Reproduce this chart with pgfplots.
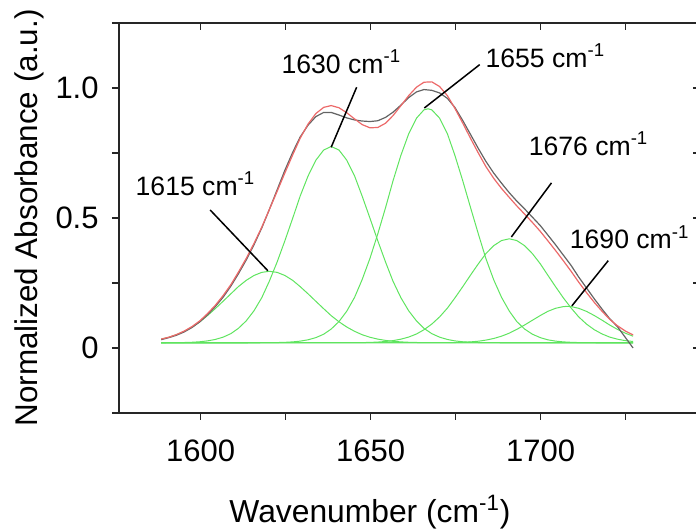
\documentclass[border=0pt]{standalone}
\usepackage{fontspec}
\setmainfont{Liberation Sans}
\usepackage{pgfplots}
\pgfplotsset{compat=1.18}
\definecolor{fitgreen}{RGB}{95,228,95}
\definecolor{fitred}{RGB}{236,105,105}
\definecolor{expgray}{RGB}{100,100,100}
\begin{document}
\begin{tikzpicture}
\useasboundingbox (-59.5pt,-58pt) rectangle (288.5pt,206.5pt);
\pgfplotsset{frame/.style={scale only axis, width=290.7pt, height=195pt,
  xmin=1576, xmax=1747, ymin=-0.25, ymax=1.25, at={(0pt,0pt)}, anchor=south west,
  axis line style={line width=0.9pt, black!85},
  major tick length=3.5pt, minor tick length=3.5pt,
  every tick/.style={line width=0.8pt, black!85},
  xtick={1600,1650,1700}, minor xtick={1625,1675,1725},
  ytick={0,0.5,1}, minor ytick={-0.25,0.25,0.75,1.25}}}
\begin{axis}[frame, xtick pos=bottom, ytick pos=left, tick align=outside,
  xticklabels={1600,1650,1700}, yticklabels={0,0.5,1.0},
  ticklabel style={font=\fontsize{15.5}{18}\selectfont},
  xticklabel style={anchor=base, yshift=-21pt},
  yticklabel style={anchor=east, inner sep=0pt, xshift=-6.5pt},
  xlabel={Wavenumber (cm\textsuperscript{-1})},
  xlabel style={at={(axis description cs:0.4317,0)}, anchor=base, yshift=-55pt, font=\fontsize{15.9}{19}\selectfont},
  ylabel={Normalized Absorbance (a.u.)},
  ylabel style={at={(axis description cs:-0.1534,0.5)}, anchor=center, font=\fontsize{15.7}{19}\selectfont}]
% baseline
\addplot[fitgreen, line width=0.6pt] coordinates {(1588.4,0.02) (1727.2,0.02)};
% component 1615
\addplot[fitgreen, line width=0.5pt] table {
1588.4 0.0342
1590.7 0.0413
1592.9 0.0512
1595.2 0.0641
1597.5 0.0806
1599.8 0.1008
1602.0 0.1245
1604.3 0.1511
1606.6 0.1796
1608.9 0.2084
1611.1 0.2359
1613.4 0.2600
1615.7 0.2789
1618.0 0.2909
1620.2 0.2950
1622.5 0.2909
1624.8 0.2789
1627.1 0.2600
1629.3 0.2359
1631.6 0.2084
1633.9 0.1796
1636.2 0.1511
1638.4 0.1245
1640.7 0.1008
1643.0 0.0806
1645.3 0.0641
1647.5 0.0512
1649.8 0.0413
1652.1 0.0342
1654.4 0.0292
1656.6 0.0257
1658.9 0.0235
1661.2 0.0220
1663.5 0.0212
1665.7 0.0206
1668.0 0.0203
1672.6 0.0200
1727.2 0.0200
};
% component 1630
\addplot[fitgreen, line width=0.5pt] table {
1588.4 0.0200
1590.7 0.0203
1592.9 0.0205
1595.2 0.0211
1597.5 0.0221
1599.8 0.0240
1602.0 0.0273
1604.3 0.0328
1606.6 0.0416
1608.9 0.0552
1611.1 0.0754
1613.4 0.1041
1615.7 0.1431
1618.0 0.1937
1620.2 0.2565
1622.5 0.3304
1624.8 0.4129
1627.1 0.4997
1629.3 0.5848
1631.6 0.6613
1633.9 0.7222
1636.2 0.7614
1638.4 0.7750
1640.7 0.7614
1643.0 0.7222
1645.3 0.6613
1647.5 0.5848
1649.8 0.4997
1652.1 0.4129
1654.4 0.3304
1656.6 0.2565
1658.9 0.1937
1661.2 0.1431
1663.5 0.1041
1665.7 0.0754
1668.0 0.0552
1670.3 0.0416
1672.6 0.0328
1674.8 0.0273
1677.1 0.0240
1679.4 0.0221
1681.7 0.0211
1683.9 0.0205
1686.2 0.0203
1690.8 0.0200
1727.2 0.0200
};
% component 1655
\addplot[fitgreen, line width=0.5pt] table {
1588.4 0.0200
1615.7 0.0201
1618.0 0.0202
1620.2 0.0204
1622.5 0.0209
1624.8 0.0218
1627.1 0.0235
1629.3 0.0264
1631.6 0.0315
1633.9 0.0399
1636.2 0.0530
1638.4 0.0728
1640.7 0.1017
1643.0 0.1418
1645.3 0.1951
1647.5 0.2626
1649.8 0.3444
1652.1 0.4382
1654.4 0.5399
1656.6 0.6433
1658.9 0.7406
1661.2 0.8235
1663.5 0.8840
1665.7 0.9160
1666.9 0.9200
1668.0 0.9160
1670.3 0.8840
1672.6 0.8235
1674.8 0.7406
1677.1 0.6433
1679.4 0.5399
1681.7 0.4382
1683.9 0.3444
1686.2 0.2626
1688.5 0.1951
1690.8 0.1418
1693.0 0.1017
1695.3 0.0728
1697.6 0.0530
1699.9 0.0399
1702.1 0.0315
1704.4 0.0264
1706.7 0.0235
1709.0 0.0218
1711.2 0.0209
1713.5 0.0204
1715.8 0.0202
1718.1 0.0201
1727.2 0.0200
};
% component 1676
\addplot[fitgreen, line width=0.5pt] table {
1588.4 0.0200
1645.3 0.0204
1647.5 0.0208
1649.8 0.0215
1652.1 0.0228
1654.4 0.0250
1656.6 0.0284
1658.9 0.0339
1661.2 0.0420
1663.5 0.0539
1665.7 0.0702
1668.0 0.0920
1670.3 0.1197
1672.6 0.1535
1674.8 0.1926
1677.1 0.2358
1679.4 0.2806
1681.7 0.3240
1683.9 0.3628
1686.2 0.3935
1688.5 0.4132
1690.8 0.4200
1693.0 0.4132
1695.3 0.3935
1697.6 0.3628
1699.9 0.3240
1702.1 0.2806
1704.4 0.2358
1706.7 0.1926
1709.0 0.1535
1711.2 0.1197
1713.5 0.0920
1715.8 0.0702
1718.1 0.0539
1720.3 0.0420
1722.6 0.0339
1724.9 0.0284
1727.2 0.0250
};
% component 1690
\addplot[fitgreen, line width=0.5pt] table {
1588.4 0.0200
1668.0 0.0201
1670.3 0.0202
1672.6 0.0205
1674.8 0.0210
1677.1 0.0219
1679.4 0.0235
1681.7 0.0261
1683.9 0.0303
1686.2 0.0366
1688.5 0.0454
1690.8 0.0571
1693.0 0.0716
1695.3 0.0885
1697.6 0.1068
1699.9 0.1248
1702.1 0.1408
1704.4 0.1527
1706.7 0.1592
1707.8 0.1600
1709.0 0.1592
1711.2 0.1527
1713.5 0.1408
1715.8 0.1248
1718.1 0.1068
1720.3 0.0885
1722.6 0.0716
1724.9 0.0571
1727.2 0.0454
};
% measured spectrum
\addplot[expgray, line width=0.6pt] table {
1588.4 0.032
1590.7 0.040
1592.9 0.049
1595.2 0.062
1597.5 0.079
1599.8 0.101
1602.0 0.127
1604.3 0.159
1606.6 0.195
1608.9 0.238
1611.1 0.285
1613.4 0.338
1615.7 0.397
1618.0 0.462
1620.2 0.532
1622.5 0.608
1624.8 0.684
1627.1 0.753
1629.3 0.812
1631.6 0.857
1633.9 0.890
1636.2 0.906
1638.4 0.906
1640.7 0.896
1643.0 0.885
1645.3 0.877
1647.5 0.873
1649.8 0.871
1652.1 0.874
1654.4 0.887
1656.6 0.907
1658.9 0.934
1661.2 0.963
1663.5 0.985
1665.7 0.994
1668.0 0.991
1670.3 0.981
1672.6 0.960
1674.8 0.925
1677.1 0.875
1679.4 0.821
1681.7 0.767
1683.9 0.718
1686.2 0.673
1688.5 0.634
1690.8 0.597
1693.0 0.565
1695.3 0.535
1697.6 0.503
1699.9 0.471
1702.1 0.435
1704.4 0.397
1706.7 0.357
1709.0 0.317
1711.2 0.273
1713.5 0.231
1715.8 0.189
1718.1 0.149
1720.3 0.113
1722.6 0.082
1724.9 0.041
1727.2 0.000
};
% fitted sum
\addplot[fitred, line width=0.6pt] table {
1588.4 0.0343
1590.7 0.0416
1592.9 0.0517
1595.2 0.0652
1597.5 0.0827
1599.8 0.1048
1602.0 0.1318
1604.3 0.1639
1606.6 0.2012
1608.9 0.2436
1611.1 0.2913
1613.4 0.3441
1615.7 0.4021
1618.0 0.4648
1620.2 0.5319
1622.5 0.6022
1624.8 0.6736
1627.1 0.7432
1629.3 0.8071
1631.6 0.8612
1633.9 0.9017
1636.2 0.9255
1638.4 0.9324
1640.7 0.9240
1643.0 0.9048
1645.3 0.8809
1647.5 0.8594
1649.8 0.8469
1652.1 0.8481
1654.4 0.8645
1656.6 0.8939
1658.9 0.9317
1661.2 0.9706
1663.5 1.0032
1665.7 1.0222
1668.0 1.0236
1670.3 1.0055
1672.6 0.9703
1674.8 0.9215
1677.1 0.8650
1679.4 0.8061
1681.7 0.7494
1683.9 0.6980
1686.2 0.6527
1688.5 0.6137
1690.8 0.5789
1693.0 0.5465
1695.3 0.5148
1697.6 0.4826
1699.9 0.4487
1702.1 0.4129
1704.4 0.3749
1706.7 0.3353
1709.0 0.2945
1711.2 0.2533
1713.5 0.2132
1715.8 0.1752
1718.1 0.1407
1720.3 0.1105
1722.6 0.0855
1724.9 0.0655
1727.2 0.0504
};
% annotations
\begin{scope}[every node/.style={font=\fontsize{13.3}{15}\selectfont, anchor=base, inner sep=0pt}]
\node at (axis cs:1598.5,0.588) {1615 cm\textsuperscript{-1}};
\node at (axis cs:1641.4,1.057) {1630 cm\textsuperscript{-1}};
\node at (axis cs:1701.4,1.080) {1655 cm\textsuperscript{-1}};
\node at (axis cs:1714.1,0.742) {1676 cm\textsuperscript{-1}};
\node at (axis cs:1726.2,0.381) {1690 cm\textsuperscript{-1}};
\end{scope}
\begin{scope}[line width=0.75pt]
\draw (axis cs:1602.8,0.531) -- (axis cs:1619.8,0.297);
\draw (axis cs:1645.9,1.003) -- (axis cs:1638.4,0.772);
\draw (axis cs:1682.1,1.090) -- (axis cs:1665.8,0.923);
\draw (axis cs:1703.2,0.635) -- (axis cs:1691.4,0.427);
\draw (axis cs:1719.9,0.336) -- (axis cs:1709.2,0.162);
\end{scope}
\end{axis}
\begin{axis}[frame, xtick pos=top, ytick pos=right, tick align=inside,
  xticklabels={}, yticklabels={}]
\end{axis}
\end{tikzpicture}
\end{document}
